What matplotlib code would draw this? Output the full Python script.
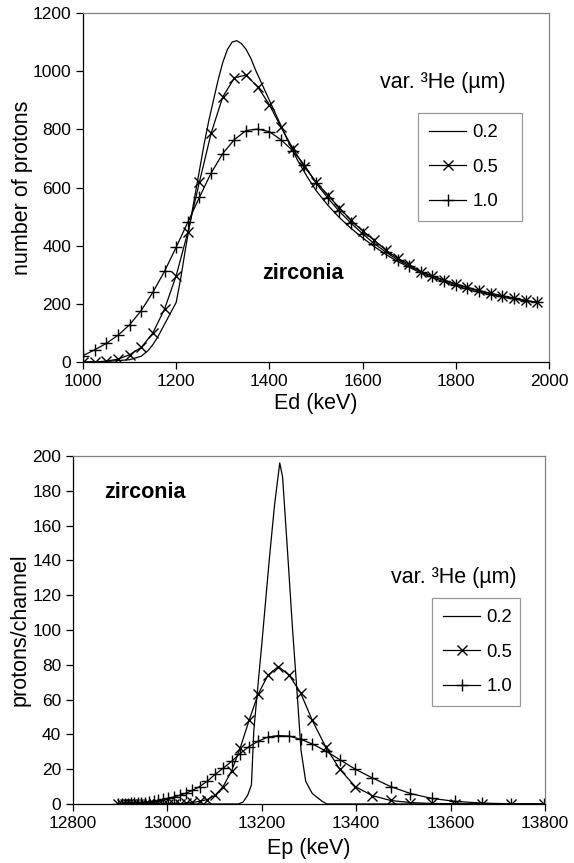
import numpy as np
import matplotlib
matplotlib.use("Agg")
import matplotlib.pyplot as plt

plt.rcParams['font.family'] = ['Liberation Sans', 'DejaVu Sans']

# ---- top panel: deuteron energy spectrum ----
ed_fine = [1000, 1050, 1100, 1125, 1140, 1150, 1160, 1170, 1180, 1190, 1200, 1210,
           1220, 1230, 1240, 1250, 1260, 1270, 1280, 1290, 1300, 1310, 1320, 1330,
           1340, 1350, 1360, 1370, 1380, 1390, 1400, 1420, 1440, 1460, 1480, 1500,
           1525, 1550, 1575, 1600, 1625, 1650, 1675, 1700, 1725, 1750, 1775, 1800,
           1825, 1850, 1875, 1900, 1925, 1950, 1975]
n_02 = [0, 2, 8, 20, 40, 60, 85, 115, 145, 175, 205, 290,
        390, 480, 570, 660, 750, 830, 900, 970, 1030, 1075, 1100, 1105,
        1095, 1075, 1045, 1005, 970, 935, 900, 830, 760, 695, 640, 590,
        540, 497, 460, 427, 397, 370, 346, 326, 306, 290, 275, 262,
        250, 240, 231, 223, 216, 210, 204]

ed = [1000, 1025, 1050, 1075, 1100, 1125, 1150, 1175, 1200, 1225,
      1250, 1275, 1300, 1325, 1350, 1375, 1400, 1425, 1450, 1475,
      1500, 1525, 1550, 1575, 1600, 1625, 1650, 1675, 1700, 1725,
      1750, 1775, 1800, 1825, 1850, 1875, 1900, 1925, 1950, 1975]
n_05 = [0, 0, 3, 10, 25, 50, 100, 182, 297, 447,
        620, 787, 912, 977, 987, 946, 885, 807, 735, 672,
        620, 574, 531, 487, 451, 418, 385, 357, 336, 310,
        296, 282, 269, 257, 246, 236, 228, 220, 212, 205]
n_10 = [22, 42, 64, 92, 128, 177, 240, 312, 395, 481,
        567, 650, 717, 765, 796, 801, 792, 764, 727, 678,
        615, 565, 518, 478, 441, 407, 378, 352, 331, 311,
        295, 280, 266, 255, 245, 235, 227, 219, 211, 205]

# ---- bottom panel: proton energy spectrum ----
ep_fine = [12896, 13100, 13150, 13160, 13170, 13178, 13183, 13188, 13200, 13216,
           13227, 13238, 13244, 13255, 13265, 13276, 13283, 13293, 13307, 13328,
           13338, 13800]
p_02 = [0, 0, 0, 1, 5, 11, 42, 57, 92, 141,
        172, 196, 188, 143, 101, 59, 31, 13, 6, 1.5,
        0, 0]

ep = [12896, 12904, 12910, 12916, 12923, 12930, 12937, 12945, 12953, 12962,
      12971, 12981, 12991, 13002, 13014, 13026, 13039, 13053, 13068, 13084,
      13101, 13118, 13136, 13154, 13173, 13192, 13213, 13235, 13258, 13282,
      13307, 13335, 13365, 13398, 13434, 13473, 13515, 13560, 13610, 13666,
      13728, 13798]
p_05 = [0, 0, 0, 0, 0, 0, 0, 0, 0, 0,
        0, 0, 0, 0.1, 0.1, 0.2, 0.5, 0.9, 1.5, 2.5,
        5, 10, 19, 32, 48, 63, 74, 79, 74, 64,
        48, 33, 20, 10, 4.8, 2, 0.8, 0.3, 0.1, 0,
        0, 0]
p_10 = [0, 0.1, 0.1, 0.2, 0.3, 0.4, 0.5, 0.6, 0.8, 1.2,
        1.6, 2.1, 2.7, 3.3, 4.1, 5.0, 6.2, 7.8, 10, 13,
        17, 20.5, 24.5, 29, 33, 36, 38.5, 39.3, 39, 37.2,
        34.5, 30.5, 25.5, 20, 15, 10, 6, 3.2, 1.5, 0.5,
        0.1, 0]

labels = ['0.2', '0.5', '1.0']

fig = plt.figure(figsize=(5.74, 8.63), dpi=100)
ax1 = fig.add_axes([0.1446, 0.5805, 0.8118, 0.4044])
ax2 = fig.add_axes([0.1272, 0.0684, 0.8223, 0.4032])


def style(ax):
    for s in ['top', 'right']:
        ax.spines[s].set_color('#808080')
    for s in ['left', 'bottom']:
        ax.spines[s].set_color('black')
    for s in ax.spines.values():
        s.set_linewidth(0.9)
    ax.tick_params(direction='out', length=5, width=0.9, labelsize=12.5, top=False, right=False)


lw = 0.9
ax1.plot(ed_fine, n_02, '-', color='black', lw=lw, label=labels[0])
ax1.plot(ed, n_05, '-x', color='black', lw=lw, ms=7, mew=1.0, label=labels[1])
ax1.plot(ed, n_10, '-+', color='black', lw=lw, ms=8, mew=1.0, label=labels[2])
ax1.set_xlim(1000, 2000)
ax1.set_ylim(0, 1200)
ax1.set_xticks(np.arange(1000, 2001, 200))
ax1.set_yticks(np.arange(0, 1201, 200))
ax1.set_xlabel('Ed (keV)', fontsize=15.5, labelpad=3)
ax1.set_ylabel('number of protons', fontsize=15.5, labelpad=0)
style(ax1)
ax1.text(1472, 306, 'zirconia', fontsize=15.5, fontweight='bold', ha='center', va='center')
ax1.text(0.637, 0.802, 'var. ³He (µm)', fontsize=15.5, transform=ax1.transAxes, va='center')
leg1 = ax1.legend(loc='upper left', bbox_to_anchor=(0.719, 0.713, 0.223, 0.0), mode='expand',
                  fontsize=13.3, frameon=True, fancybox=False, edgecolor='#808080',
                  handlelength=2.0, handletextpad=0.35, labelspacing=0.95, borderpad=0.6,
                  borderaxespad=0)
leg1.get_frame().set_linewidth(0.9)

ax2.plot(ep_fine, p_02, '-', color='black', lw=lw, label=labels[0])
ax2.plot(ep, p_05, '-x', color='black', lw=lw, ms=7, mew=1.0, label=labels[1])
ax2.plot(ep, p_10, '-+', color='black', lw=lw, ms=8, mew=1.0, label=labels[2])
ax2.set_xlim(12800, 13800)
ax2.set_ylim(0, 200)
ax2.set_xticks(np.arange(12800, 13801, 200))
ax2.set_yticks(np.arange(0, 201, 20))
ax2.set_xlabel('Ep (keV)', fontsize=15.5, labelpad=5)
ax2.set_ylabel('protons/channel', fontsize=15.5, labelpad=1)
style(ax2)
ax2.text(12952, 179, 'zirconia', fontsize=15.5, fontweight='bold', ha='center', va='center')
ax2.text(0.674, 0.652, 'var. ³He (µm)', fontsize=15.5, transform=ax2.transAxes, va='center')
leg2 = ax2.legend(loc='upper left', bbox_to_anchor=(0.761, 0.592, 0.186, 0.0), mode='expand',
                  fontsize=13.3, frameon=True, fancybox=False, edgecolor='#808080',
                  handlelength=2.0, handletextpad=0.35, labelspacing=0.95, borderpad=0.6,
                  borderaxespad=0)
leg2.get_frame().set_linewidth(0.9)

fig.savefig('out.png', dpi=100)
